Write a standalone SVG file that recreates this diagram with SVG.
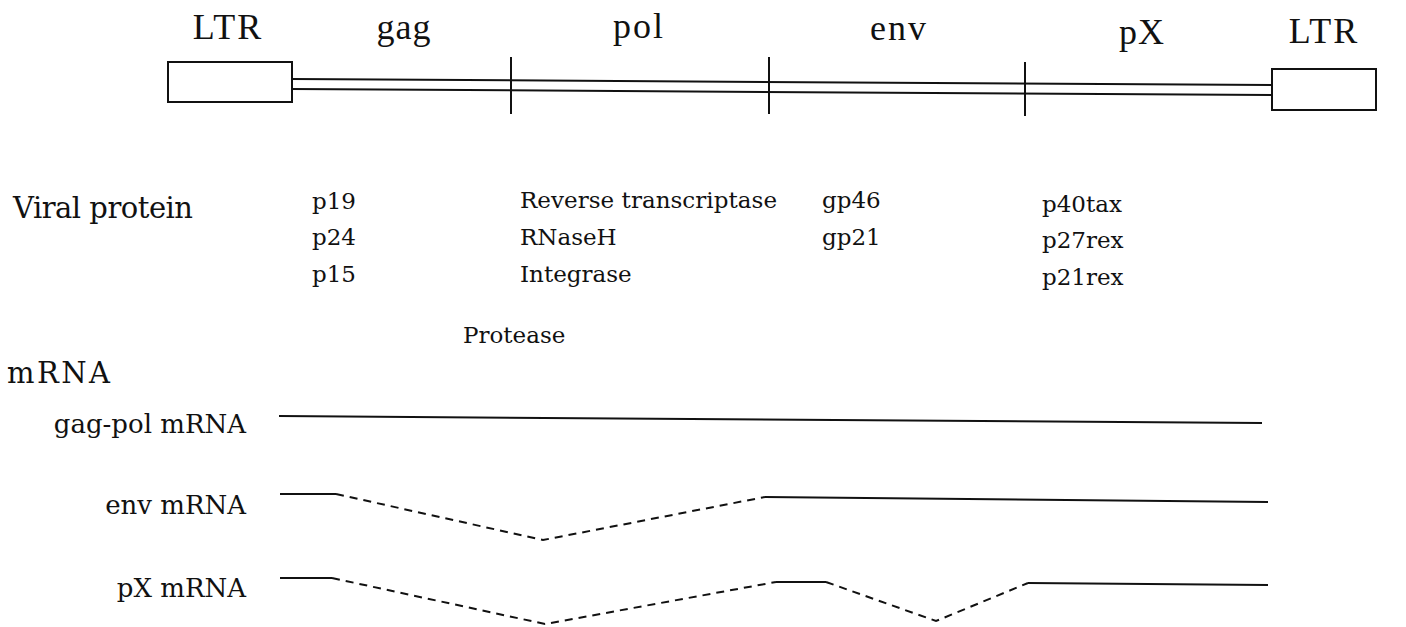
<svg xmlns="http://www.w3.org/2000/svg" width="1406" height="627" viewBox="0 0 1406 627">
<style>
text{font-family:"DejaVu Serif","Liberation Serif",serif;fill:#111}
.big{font-family:"Liberation Serif","Times New Roman",serif;font-size:36px}
.med{font-size:23px}
.lab{font-size:29px}
.sm{font-size:26px}
.ln{stroke:#111;stroke-width:2;fill:none}
.dash{stroke:#111;stroke-width:2;fill:none;stroke-dasharray:8,6}
.box{stroke:#111;stroke-width:2;fill:#fff}
</style>
<rect width="1406" height="627" fill="#fff"/>
<g id="genome">
<g id="ltr-left"><rect class="box" x="168" y="62" width="124" height="40"/><text class="big" x="228" y="39" text-anchor="middle" letter-spacing="2">LTR</text></g>
<g id="gag"><text class="big" x="404" y="39" text-anchor="middle" letter-spacing="1">gag</text></g>
<g id="pol"><text class="big" x="639" y="38" text-anchor="middle" letter-spacing="2">pol</text></g>
<g id="env"><text class="big" x="899" y="40" text-anchor="middle" letter-spacing="2">env</text></g>
<g id="px"><text class="big" x="1142" y="44" text-anchor="middle" letter-spacing="1">pX</text></g>
<g id="ltr-right"><rect class="box" x="1272" y="69" width="104" height="41"/><text class="big" x="1324" y="43" text-anchor="middle" letter-spacing="2">LTR</text></g>
</g>
<g id="connectors">
<line class="ln" x1="292" y1="79" x2="1272" y2="85"/>
<line class="ln" x1="292" y1="89" x2="1272" y2="95"/>
<line class="ln" x1="511" y1="57" x2="511" y2="114"/>
<line class="ln" x1="769" y1="57" x2="769" y2="114"/>
<line class="ln" x1="1025" y1="62" x2="1025" y2="116"/>
<line class="ln" x1="279" y1="416" x2="1262" y2="423"/>
<polyline class="ln" points="280,494 336,494"/>
<polyline class="dash" points="336,494 543,540 765,497"/>
<polyline class="ln" points="765,497 1268,502"/>
<polyline class="ln" points="280,578 332,578"/>
<polyline class="dash" points="332,578 545,624 776,582"/>
<polyline class="ln" points="776,582 826,582"/>
<polyline class="dash" points="826,582 936,621 1028,583"/>
<polyline class="ln" points="1028,583 1268,585"/>
</g>
<g id="proteins">
<text class="lab" x="13" y="218" textLength="180">Viral protein</text>
<g id="gag-proteins"><text class="med" x="312" y="209">p19</text><text class="med" x="312" y="245">p24</text><text class="med" x="312" y="282">p15</text></g>
<g id="pol-proteins"><text class="med" x="520" y="208" textLength="257">Reverse transcriptase</text><text class="med" x="520" y="245">RNaseH</text><text class="med" x="520" y="282">Integrase</text><text class="med" x="463" y="343">Protease</text></g>
<g id="env-proteins"><text class="med" x="822" y="208">gp46</text><text class="med" x="822" y="245">gp21</text></g>
<g id="px-proteins"><text class="med" x="1042" y="212">p40tax</text><text class="med" x="1042" y="248">p27rex</text><text class="med" x="1042" y="285">p21rex</text></g>
</g>
<g id="mrna">
<text class="lab" x="7" y="383" textLength="103">mRNA</text>
<text class="sm" x="246" y="433" text-anchor="end">gag-pol mRNA</text>
<text class="sm" x="246" y="514" text-anchor="end">env mRNA</text>
<text class="sm" x="246" y="597" text-anchor="end">pX mRNA</text>
</g>
</svg>
